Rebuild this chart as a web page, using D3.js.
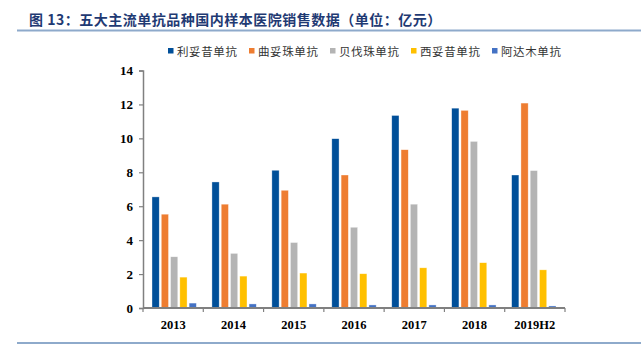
<!DOCTYPE html>
<html><head><meta charset="utf-8">
<script src="https://cdn.jsdelivr.net/npm/d3@7"></script>
<style>body{margin:0;background:#fff}svg{display:block}</style>
</head><body>
<svg id="c" width="641" height="362"></svg>
<script>
const categories = ["2013","2014","2015","2016","2017","2018","2019H2"];
const seriesNames = ["利妥昔单抗","曲妥珠单抗","贝伐珠单抗","西妥昔单抗","阿达木单抗"];
const rituximab   = [6.55, 7.43, 8.12, 9.98, 11.35, 11.78, 7.84];
const trastuzumab = [5.53, 6.12, 6.94, 7.84, 9.33, 11.65, 12.08];
const bevacizumab = [3.02, 3.22, 3.86, 4.76, 6.12, 9.82, 8.10];
const cetuximab   = [1.82, 1.88, 2.06, 2.02, 2.37, 2.67, 2.25];
const adalimumab  = [0.29, 0.24, 0.24, 0.18, 0.18, 0.18, 0.12];
const yTicks = [0,2,4,6,8,10,12,14];
const colors = ["#004f99","#ee7d31","#b4b4b4","#ffc000","#4472c4"];
const seriesValues = [rituximab, trastuzumab, bevacizumab, cetuximab, adalimumab];

const svg = d3.select("#c");
const L = 143, R = 565, T = 70.5, B = 308;

// title
svg.append("text").attr("x",29).attr("y",25)
  .attr("font-family","'Noto Sans CJK SC'").attr("font-weight","bold")
  .attr("font-size",14).attr("fill","#1f3a73").attr("letter-spacing",0.5)
  .text("图 13：五大主流单抗品种国内样本医院销售数据（单位：亿元）");
svg.append("line").attr("x1",17).attr("x2",641).attr("y1",30.5).attr("y2",30.5)
  .attr("stroke","#8eaacb").attr("stroke-width",2);
svg.append("line").attr("x1",17).attr("x2",641).attr("y1",343).attr("y2",343)
  .attr("stroke","#8eaacb").attr("stroke-width",2);

// legend
const lg = svg.append("g");
seriesNames.forEach((n,i)=>{
  const x = 168 + i*81;
  lg.append("rect").attr("x",x).attr("y",48).attr("width",5.5).attr("height",5.5).attr("fill",colors[i]);
  lg.append("text").attr("x",x+9).attr("y",51).attr("dominant-baseline","central")
    .attr("font-family","'Noto Sans CJK SC'").attr("font-size",11.5).attr("fill","#333")
    .attr("letter-spacing",0.6).text(n);
});

const x0 = d3.scaleBand().domain(categories).range([L,R]).paddingInner(0.26).paddingOuter(0.15);
const x1 = d3.scaleBand().domain(seriesNames).range([0,x0.bandwidth()]).paddingInner(0.22);
const y = d3.scaleLinear().domain([0,14]).range([B,T]);

const groups = svg.append("g").selectAll("g").data(categories).join("g")
  .attr("transform",d=>`translate(${x0(d)},0)`);
groups.selectAll("rect").data((d,ci)=>seriesNames.map((s,si)=>({s,si,v:seriesValues[si][ci]})))
  .join("rect")
  .attr("x",d=>x1(d.s)).attr("width",x1.bandwidth())
  .attr("y",d=>y(d.v)).attr("height",d=>y(0)-y(d.v))
  .attr("fill",d=>colors[d.si]).attr("stroke","rgba(255,255,255,0.6)").attr("stroke-width",0.6);

// y axis
const ya = svg.append("g").attr("transform",`translate(${L},0)`)
  .call(d3.axisLeft(y).tickValues(yTicks).tickSize(4).tickPadding(6).tickFormat(d3.format("d")));
ya.select(".domain").attr("stroke","#808080").attr("stroke-width",1.5);
ya.selectAll(".tick line").attr("stroke","#808080").attr("stroke-width",1.2);
ya.selectAll("text").attr("font-family","'Liberation Serif'").attr("font-weight","bold")
  .attr("font-size",13).attr("fill","#000");

// x axis
const xa = svg.append("g").attr("transform",`translate(0,${B})`);
xa.append("line").attr("x1",L).attr("x2",R).attr("stroke","#808080").attr("stroke-width",2);
const xs = d3.scaleLinear().domain([0,categories.length]).range([L,R]);
xa.selectAll("line.t").data(d3.range(categories.length+1)).join("line").attr("class","t")
  .attr("x1",d=>xs(d)).attr("x2",d=>xs(d)).attr("y1",0).attr("y2",4)
  .attr("stroke","#808080").attr("stroke-width",1.2);
xa.selectAll("text").data(categories).join("text")
  .attr("x",(d,i)=>xs(i+0.5)).attr("y",21).attr("text-anchor","middle")
  .attr("font-family","'Liberation Serif'").attr("font-weight","bold")
  .attr("font-size",12.5).attr("fill","#000").text(d=>d);
</script>
</body></html>
